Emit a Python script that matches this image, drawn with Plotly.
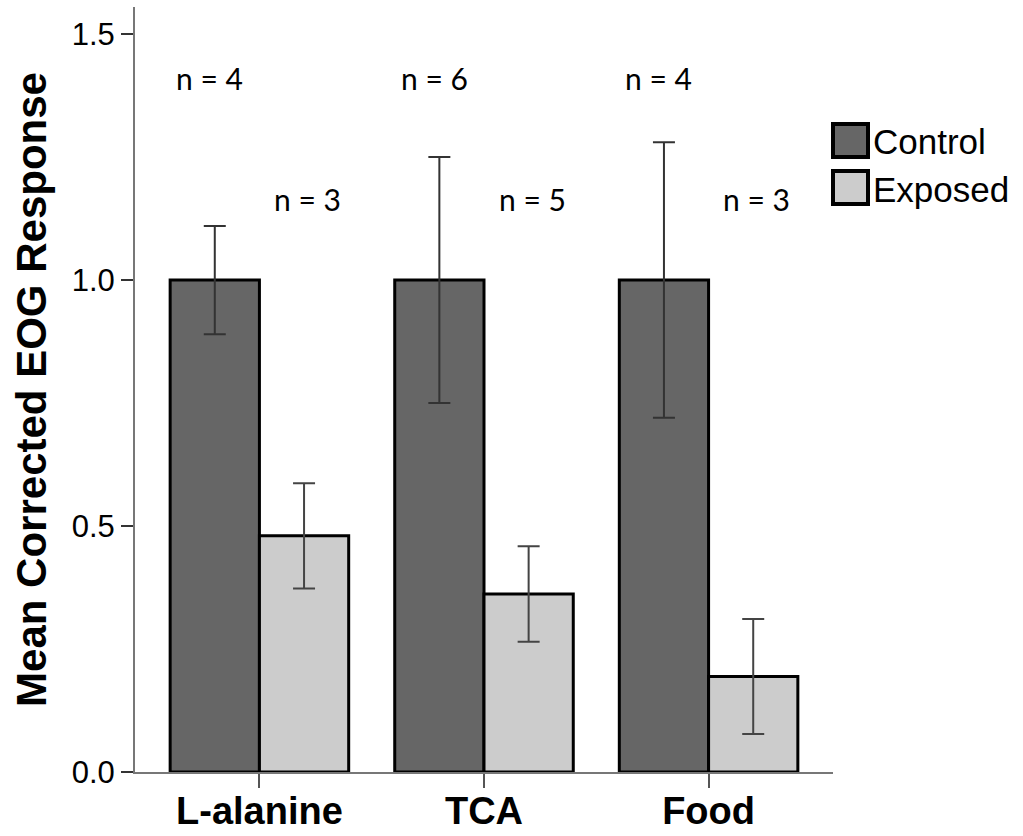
import plotly.graph_objects as go

categories = ["L-alanine", "TCA", "Food"]
control_mean = [1.0, 1.0, 1.0]
control_err = [0.11, 0.25, 0.28]
exposed_mean = [0.48, 0.362, 0.194]
exposed_err = [0.107, 0.097, 0.117]
control_n = ["n = 4", "n = 6", "n = 4"]
exposed_n = ["n = 3", "n = 5", "n = 3"]
y_ticks = [0.0, 0.5, 1.0, 1.5]
y_tick_labels = ["0.0", "0.5", "1.0", "1.5"]
control_n_y = 1.41
exposed_n_y = 1.165

fig = go.Figure()
fig.add_trace(go.Bar(
    x=categories, y=control_mean, name="Control",
    marker=dict(color="#666666", line=dict(color="black", width=3)),
    error_y=dict(type="data", array=control_err, color="#333333", thickness=2, width=11),
))
fig.add_trace(go.Bar(
    x=categories, y=exposed_mean, name="Exposed",
    marker=dict(color="#cccccc", line=dict(color="black", width=3)),
    error_y=dict(type="data", array=exposed_err, color="#444444", thickness=2, width=11),
))

annotations = []
for c, t in zip(categories, control_n):
    annotations.append(dict(x=c, y=control_n_y, xref="x", yref="y", text=t, showarrow=False,
                            xshift=-50, font=dict(family="Lato", size=30, color="black")))
for c, t in zip(categories, exposed_n):
    annotations.append(dict(x=c, y=exposed_n_y, xref="x", yref="y", text=t, showarrow=False,
                            xshift=48, font=dict(family="Lato", size=30, color="black")))

# custom legend
W, H = 698.0, 765.0
def px(xp):
    return (xp - 135) / W
def py(yp):
    return (772 - yp) / H

shapes = [
    dict(type="rect", xref="paper", yref="paper", x0=px(833), x1=px(868), y0=py(157), y1=py(124),
         fillcolor="#666666", line=dict(color="black", width=4)),
    dict(type="rect", xref="paper", yref="paper", x0=px(833), x1=px(868), y0=py(204), y1=py(171),
         fillcolor="#cccccc", line=dict(color="black", width=4)),
]
for name, yc in [("Control", 141), ("Exposed", 189)]:
    annotations.append(dict(x=px(871), y=py(yc), xref="paper", yref="paper", text=name,
                            showarrow=False, xanchor="left", yanchor="middle",
                            font=dict(family="Liberation Sans", size=35, color="black")))

fig.update_layout(
    width=1023, height=836,
    margin=dict(l=135, r=190, t=7, b=64, autoexpand=False),
    paper_bgcolor="white", plot_bgcolor="white",
    barmode="group", bargap=0.205, bargroupgap=0,
    showlegend=False,
    annotations=annotations, shapes=shapes,
    font=dict(family="Liberation Sans", color="black"),
)
fig.update_xaxes(
    range=[-0.554, 2.554], showline=True, linecolor="#777777", linewidth=2,
    ticks="outside", ticklen=14, tickcolor="#555555", tickwidth=2,
    tickvals=categories, ticktext=["<b>%s</b>" % c for c in categories],
    tickfont=dict(family="Liberation Sans", size=38, color="black"),
    showgrid=False, zeroline=False, automargin=False, ticklabelstandoff=-10,
)
fig.update_yaxes(
    range=[0, 1.555], showline=True, linecolor="#777777", linewidth=2,
    ticks="outside", ticklen=12, tickcolor="#333333", tickwidth=2,
    tickvals=y_ticks, ticktext=y_tick_labels,
    tickfont=dict(family="Liberation Sans", size=31, color="black"),
    showgrid=False, zeroline=False, automargin=False,
    title=dict(text="<b>Mean Corrected EOG Response</b>", standoff=12,
               font=dict(family="Liberation Sans", size=42, color="black")),
)

fig.write_html("out.html")
